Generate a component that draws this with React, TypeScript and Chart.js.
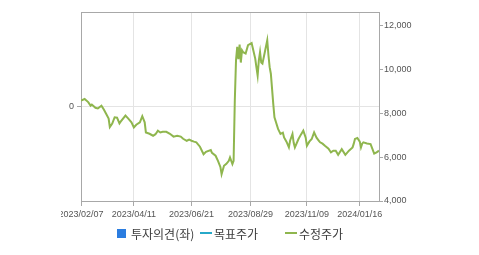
import { useEffect, useRef } from 'react';
import { Chart, registerables } from 'chart.js';

Chart.register(...registerables);

// trading-day index (0 = 2023/02/07) of each observation
const tradingDays = [
  0, 3, 6, 8, 9, 12, 14, 17, 19, 21, 23, 24, 26, 28, 30, 32, 33, 37, 39, 42,
  44, 46, 49, 51, 53, 54, 57, 60, 62, 64, 66, 68, 71, 74, 77, 80, 83, 85, 88, 90,
  92, 94, 96, 99, 102, 104, 108, 109, 112, 114, 116, 117, 119, 121, 123, 124, 126, 127, 128, 129,
  130, 131, 132, 133, 134, 135, 137, 139, 142, 143, 145, 146, 147, 148, 149, 150, 151, 153, 155, 156, 157, 158,
  160, 161, 164, 166, 168, 169, 171, 173, 174, 176, 177, 178, 181, 183, 185, 187, 188, 190, 192, 194,
  196, 198, 199, 201, 203, 206, 208, 210, 212, 214, 217, 220, 223, 226, 227, 228, 230, 232, 233, 234,
  235, 238, 241, 244, 246, 248,
];

// 수정주가 (adjusted close, KRW)
const prices = [
  8570, 8640, 8500, 8340, 8390, 8240, 8210, 8340, 8160, 7960, 7750, 7360, 7520, 7810, 7790, 7530, 7610, 7890, 7770, 7580,
  7350, 7470, 7580, 7860, 7580, 7120, 7060, 6970, 7040, 7200, 7120, 7150, 7150, 7060, 6930, 6970, 6930, 6830, 6740, 6790,
  6740, 6700, 6670, 6470, 6130, 6240, 6320, 6190, 6060, 5830, 5550, 5220, 5600, 5690, 5830, 5980, 5680, 5830, 8570, 10400,
  11010, 10450, 11120, 10300, 10860, 10770, 10710, 11090, 11190, 10950, 10480, 10080, 9710, 10400, 10780, 10300, 10250, 10780, 11310, 10630, 10090, 9790,
  8420, 7810, 7280, 7050, 7110, 6890, 6700, 6440, 6740, 7050, 6650, 6440, 6820, 7020, 7200, 6880, 6510, 6700, 6820, 7120,
  6880, 6740, 6670, 6610, 6510, 6380, 6210, 6290, 6290, 6100, 6360, 6100, 6290, 6440, 6610, 6820, 6870, 6700, 6440, 6610,
  6670, 6620, 6590, 6160, 6210, 6290,
];

const targetPrices: number[] = [];

const tickDays = [0, 44, 92, 141, 188, 232];
const tickLabels = ['2023/02/07', '2023/04/11', '2023/06/21', '2023/08/29', '2023/11/09', '2024/01/16'];
const priceTicks = [4000, 6000, 8000, 10000, 12000];
const opinionTicks = [0];

const legendLabels = ['투자의견(좌)', '목표주가', '수정주가'];

const GREEN = '#8fb64e';
const TEAL = '#27a9c9';
const BLUE = '#2b7de0';
const BORDER = '#a8a8a8';
const GRID = '#e4e4e4';
const TICK_FONT = { family: "'Liberation Sans', Arial, sans-serif", size: 9 };

export default function App() {
  const ref = useRef<HTMLCanvasElement>(null);

  useEffect(() => {
    const chart = new Chart(ref.current!, {
      type: 'line',
      data: {
        datasets: [
          {
            label: legendLabels[1],
            data: targetPrices.map((p, i) => ({ x: tradingDays[i], y: p })),
            yAxisID: 'y',
            borderColor: TEAL,
            borderWidth: 2,
            pointRadius: 0,
          },
          {
            label: legendLabels[2],
            data: tradingDays.map((d, i) => ({ x: d, y: prices[i] })),
            yAxisID: 'y',
            borderColor: GREEN,
            borderWidth: 2,
            pointRadius: 0,
            tension: 0,
          },
        ],
      },
      options: {
        responsive: false,
        animation: false,
        layout: { padding: { top: 12, left: 0, right: 0, bottom: 0 } },
        plugins: { legend: { display: false }, tooltip: { enabled: false } },
        scales: {
          x: {
            type: 'linear',
            position: 'bottom',
            min: 0,
            max: 248,
            afterBuildTicks: (s: any) => {
              s.ticks = tickDays.map((v) => ({ value: v }));
            },
            afterFit: (s: any) => {
              s.height = 54;
              s.paddingLeft = 0;
              s.paddingRight = 0;
            },
            ticks: {
              autoSkip: false,
              maxRotation: 0,
              color: '#555',
              font: TICK_FONT,
              padding: 3,
              callback: (v: any) => {
                const k = tickDays.indexOf(Number(v));
                return k >= 0 ? tickLabels[k] : '';
              },
            },
            grid: { color: GRID, tickColor: BORDER, tickLength: 5 },
            border: { color: BORDER },
          },
          xTop: {
            type: 'linear',
            position: 'top',
            min: 0,
            max: 248,
            ticks: { display: false },
            grid: { drawOnChartArea: false, drawTicks: false },
            border: { color: BORDER },
            afterFit: (s: any) => {
              s.height = 0;
            },
          },
          yL: {
            type: 'linear',
            position: 'left',
            min: -1,
            max: 1,
            afterBuildTicks: (s: any) => {
              s.ticks = opinionTicks.map((v) => ({ value: v }));
            },
            afterFit: (s: any) => {
              s.width = 20;
            },
            ticks: { color: '#555', font: TICK_FONT, padding: 3 },
            grid: { color: GRID, tickColor: BORDER, tickLength: 4 },
            border: { color: BORDER },
          },
          y: {
            type: 'linear',
            position: 'right',
            min: 4000,
            max: 12600,
            afterBuildTicks: (s: any) => {
              s.ticks = priceTicks.map((v) => ({ value: v }));
            },
            afterFit: (s: any) => {
              s.width = 100;
            },
            ticks: {
              color: '#555',
              font: TICK_FONT,
              padding: 1,
              callback: (v: any) => Number(v).toLocaleString('en-US'),
            },
            grid: { drawOnChartArea: false, tickColor: BORDER, tickLength: 4 },
            border: { color: BORDER },
          },
        },
      },
    });
    return () => chart.destroy();
  }, []);

  const textStyle: React.CSSProperties = {
    position: 'absolute',
    top: 226,
    fontFamily: "'Noto Sans CJK KR', 'Noto Sans', sans-serif",
    fontSize: 12,
    lineHeight: '15px',
    color: '#3c3c3c',
    whiteSpace: 'nowrap',
  };

  return (
    <div
      style={{
        position: 'fixed',
        left: 0,
        top: 0,
        width: 479,
        height: 255,
        background: '#fff',
        overflow: 'hidden',
      }}
    >
      <canvas
        ref={ref}
        width={418}
        height={255}
        style={{ position: 'absolute', left: 61, top: 0, width: 418, height: 255 }}
      />
      <div style={{ position: 'absolute', left: 117, top: 229, width: 9, height: 9, background: BLUE }} />
      <span style={{ ...textStyle, left: 131 }}>{legendLabels[0]}</span>
      <div style={{ position: 'absolute', left: 200, top: 232, width: 12, height: 2, background: TEAL }} />
      <span style={{ ...textStyle, left: 214 }}>{legendLabels[1]}</span>
      <div style={{ position: 'absolute', left: 285, top: 232, width: 12, height: 2, background: GREEN }} />
      <span style={{ ...textStyle, left: 299 }}>{legendLabels[2]}</span>
    </div>
  );
}
